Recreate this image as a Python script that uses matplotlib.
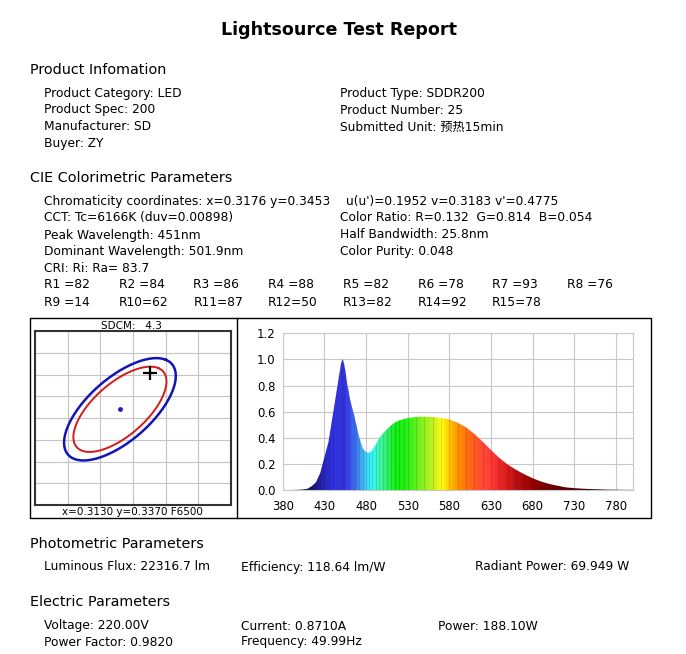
import numpy as np
import matplotlib
matplotlib.use('Agg')
import matplotlib.pyplot as plt
from matplotlib.patches import Rectangle
from matplotlib.lines import Line2D
from matplotlib.colors import LinearSegmentedColormap

plt.rcParams['font.family'] = ['DejaVu Sans', 'Noto Sans CJK SC']

W, H = 686, 654

# report text
title = 'Lightsource Test Report'
product_left = ['Product Category: LED', 'Product Spec: 200', 'Manufacturer: SD', 'Buyer: ZY']
product_right = ['Product Type: SDDR200', 'Product Number: 25', 'Submitted Unit: 预热15min']
cie_left = ['Chromaticity coordinates: x=0.3176 y=0.3453', 'CCT: Tc=6166K (duv=0.00898)',
            'Peak Wavelength: 451nm', 'Dominant Wavelength: 501.9nm']
cie_right = ["u(u')=0.1952 v=0.3183 v'=0.4775", 'Color Ratio: R=0.132  G=0.814  B=0.054',
             'Half Bandwidth: 25.8nm', 'Color Purity: 0.048']
ra_text = 'CRI: Ri: Ra= 83.7'
ri_values = [82, 84, 86, 88, 82, 78, 93, 76, 14, 62, 87, 50, 82, 92, 78]
photo_items = ['Luminous Flux: 22316.7 lm', 'Efficiency: 118.64 lm/W', 'Radiant Power: 69.949 W']
elec_row1 = ['Voltage: 220.00V', 'Current: 0.8710A', 'Power: 188.10W']
elec_row2 = ['Power Factor: 0.9820', 'Frequency: 49.99Hz']

# chromaticity panel
ref_xy = (0.3130, 0.3370)
test_xy = (0.3176, 0.3453)
sdcm = 4.3
macadam_a, macadam_b, macadam_theta = 0.00223, 0.00095, 58.23
ellipse_steps = [5, 6]

# relative spectrum
wavelength = [380, 390, 400, 405, 410, 415, 420, 425, 430, 435, 440, 445, 448,
              450, 451, 452, 453, 455, 458, 461, 465, 468, 472, 476, 480, 483, 487,
              492, 496, 500, 505, 510, 515, 520, 525, 530, 540, 550, 560, 570, 580,
              590, 600, 610, 620, 630, 640, 650, 660, 670, 680, 690, 700, 710, 720,
              730, 740, 750, 760, 770, 780, 790, 800]
intensity = [0, 0, 0.002, 0.005, 0.01, 0.03, 0.06, 0.13, 0.25, 0.37, 0.57, 0.77, 0.89,
             0.97, 0.99, 1.0, 0.98, 0.92, 0.79, 0.69, 0.59, 0.51, 0.40, 0.32, 0.29, 0.285, 0.30,
             0.355, 0.40, 0.43, 0.465, 0.495, 0.518, 0.533, 0.543, 0.551, 0.56, 0.562, 0.559, 0.552, 0.54,
             0.515, 0.48, 0.43, 0.37, 0.306, 0.245, 0.195, 0.155, 0.12, 0.09, 0.065, 0.046, 0.032, 0.02,
             0.014, 0.01, 0.007, 0.005, 0.003, 0.002, 0.001, 0.001]


def fx(x):
    return x / W


def fy(y):
    return 1 - y / H


fig = plt.figure(figsize=(W / 100, H / 100), dpi=100)

BODY = 8.8
HEAD = 10.4

def put(x, y, s, size=BODY, **kw):
    fig.text(fx(x), fy(y), s, fontsize=size, va='center', **kw)

put(339, 30, title, size=12.6, ha='center', fontweight='bold')

put(30, 70, 'Product Infomation', size=HEAD)
for i, s in enumerate(product_left):
    put(44, 93 + 17 * i, s)
for i, s in enumerate(product_right):
    put(340, 93 + 17 * i, s)

put(30, 178, 'CIE Colorimetric Parameters', size=HEAD)
for i, s in enumerate(cie_left):
    put(44, 201 + 17 * i, s)
put(346, 201, cie_right[0])
for i, s in enumerate(cie_right[1:]):
    put(340, 218 + 17 * i, s)
put(44, 268, ra_text)
for i, v in enumerate(ri_values):
    row, col = divmod(i, 8)
    name = 'R%d' % (i + 1)
    lab = (name + ' =' if len(name) == 2 else name + '=') + str(v)
    put(44 + 74.7 * col, 285 + 17 * row, lab)

put(30, 544, 'Photometric Parameters', size=HEAD)
for x, s in zip([44, 241, 475], photo_items):
    put(x, 567, s)
put(30, 602, 'Electric Parameters', size=HEAD)
for x, s in zip([44, 241, 438], elec_row1):
    put(x, 626, s)
for x, s in zip([44, 241], elec_row2):
    put(x, 642, s)

# panel frame
fig.add_artist(Rectangle((fx(30), fy(518)), fx(621), 200 / H, transform=fig.transFigure,
                         fill=False, edgecolor='black', linewidth=1))
fig.add_artist(Line2D([fx(237), fx(237)], [fy(518), fy(318)], transform=fig.transFigure,
                      color='black', linewidth=1))

# chromaticity / SDCM plot
ax1 = fig.add_axes([fx(35), fy(505), 196 / W, 174 / H])
ax1.set_xlim(0.300, 0.330)
ax1.set_ylim(0.315, 0.355)
ax1.set_xticks(np.arange(0.300, 0.3301, 0.005))
ax1.set_yticks(np.arange(0.315, 0.3551, 0.005))
ax1.tick_params(length=0, labelbottom=False, labelleft=False)
ax1.grid(True, color='#c4c4c4', linewidth=0.8)
for sp in ax1.spines.values():
    sp.set_color('#333333')
    sp.set_linewidth(1.5)

t = np.linspace(0, 2 * np.pi, 200)
th = np.radians(macadam_theta)
for k, c, lw in zip(ellipse_steps, ['#d41a1a', '#1414b8'], [1.4, 1.8]):
    a, b = macadam_a * k, macadam_b * k
    ex = ref_xy[0] + a * np.cos(t) * np.cos(th) - b * np.sin(t) * np.sin(th)
    ey = ref_xy[1] + a * np.cos(t) * np.sin(th) + b * np.sin(t) * np.cos(th)
    ax1.plot(ex, ey, color=c, linewidth=lw)
ax1.plot(ref_xy[0], ref_xy[1], 'o', color='#2020c0', markersize=2.5)
ax1.plot(test_xy[0], test_xy[1], '+', color='black', markersize=10, markeredgewidth=1.6)

put(131, 326, 'SDCM:   %.1f' % sdcm, size=7.5, ha='center')
put(132, 512, 'x=%.4f y=%.4f F6500' % ref_xy, size=7.5, ha='center')

# spectrum plot
ax2 = fig.add_axes([fx(282.7), fy(490), 350 / W, 156.7 / H])
ax2.set_xticks(range(380, 781, 50))
ax2.set_yticks(np.arange(0, 1.21, 0.2))
ax2.set_yticklabels(['%.1f' % v for v in np.arange(0, 1.21, 0.2)])
ax2.tick_params(length=0, labelsize=8.4, pad=5)
ax2.tick_params(axis='x', pad=7)
ax2.grid(True, color='#c8c8c8', linewidth=0.8)
ax2.set_axisbelow(True)
for sp in ax2.spines.values():
    sp.set_color('#c8c8c8')

stops = [(380, '#08082a'), (410, '#101050'), (425, '#2424a8'), (438, '#3030e0'),
         (455, '#3a3cf0'), (465, '#3c6cf0'), (473, '#40a4f0'), (481, '#40dcf8'),
         (486, '#30f8f8'), (495, '#40f8b0'), (505, '#30f060'), (515, '#10f010'),
         (530, '#30f018'), (545, '#80f020'), (560, '#c8f020'), (570, '#ffff10'),
         (580, '#ffc000'), (590, '#ff9000'), (600, '#ff7010'), (615, '#ff5030'),
         (630, '#ff3838'), (645, '#e02020'), (660, '#b81010'), (680, '#900000'),
         (700, '#700000'), (730, '#500000'), (760, '#300000'), (800, '#100000')]
spec_cmap = LinearSegmentedColormap.from_list(
    'spec', [((w - 380) / 420, c) for w, c in stops])
grad = np.linspace(0, 1, 840)[np.newaxis, :]
im = ax2.imshow(grad, cmap=spec_cmap, extent=[380, 800, 0, 1.2], aspect='auto',
                interpolation='bilinear', zorder=2)
poly = ax2.fill_between(wavelength, intensity, 0, facecolor='none', edgecolor='none')
im.set_clip_path(poly.get_paths()[0], transform=ax2.transData)
# faint stripes like the instrument rendering
ax2.vlines(wavelength[6:-4], 0, intensity[6:-4], colors='black', alpha=0.15,
           linewidth=0.6, zorder=3)
ax2.set_xlim(380, 800)
ax2.set_ylim(0, 1.2)

fig.savefig('out.png', dpi=100)
